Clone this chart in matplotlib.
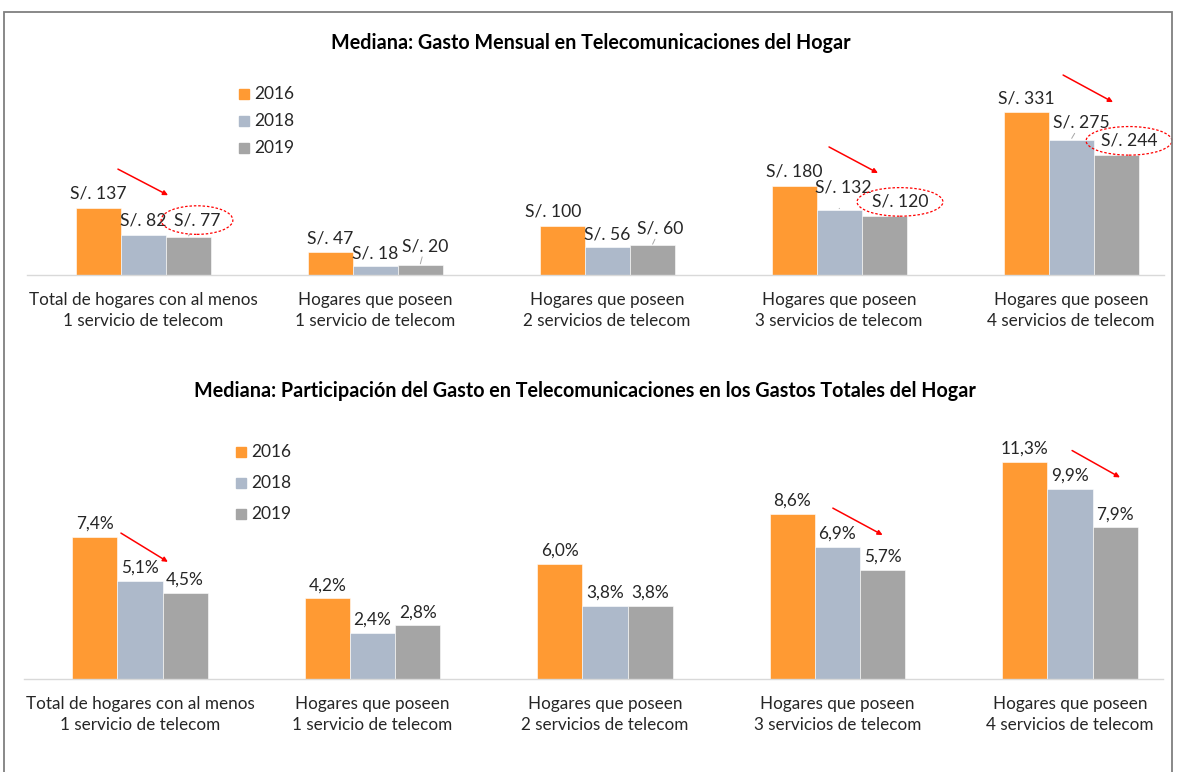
import matplotlib
matplotlib.use("Agg")
import matplotlib.pyplot as plt
from matplotlib.patches import Rectangle
import numpy as np

plt.rcParams['font.family'] = ['Lato', 'DejaVu Sans']

W, H = 1177, 772

categories = [
    "Total de hogares con al menos\n1 servicio de telecom",
    "Hogares que poseen\n1 servicio de telecom",
    "Hogares que poseen\n2 servicios de telecom",
    "Hogares que poseen\n3 servicios de telecom",
    "Hogares que poseen\n4 servicios de telecom",
]
years = ["2016", "2018", "2019"]
colors = ["#FF9A33", "#ADB9CA", "#A5A5A5"]

# Gasto mensual (S/.)
gasto_2016 = [137, 47, 100, 180, 331]
gasto_2018 = [82, 18, 56, 132, 275]
gasto_2019 = [77, 20, 60, 120, 244]

# Participacion del gasto (%)
part_2016 = [7.4, 4.2, 6.0, 8.6, 11.3]
part_2018 = [5.1, 2.4, 3.8, 6.9, 9.9]
part_2019 = [4.5, 2.8, 3.8, 5.7, 7.9]

BAR_W = 45 / 232

fig = plt.figure(figsize=(W / 100, H / 100), dpi=100)


def px_axes(left, base, width, height):
    return fig.add_axes([left / W, (H - base) / H, width / W, height / H])


def draw_panel(ax, series, fmt, ylim, offsets, circled, arrows, title, title_xy,
               legend_x, legend_ys, val_size):
    x = np.arange(len(categories))
    for i, (vals, col) in enumerate(zip(series, colors)):
        xs = x + (i - 1) * BAR_W
        ax.bar(xs, vals, width=BAR_W, color=col, edgecolor='white', linewidth=0.4,
               zorder=2)
        for g, (xx, v) in enumerate(zip(xs, vals)):
            dx, dy, leader = offsets.get((g, i), (0, 14, False))
            kw = {}
            if leader:
                kw['arrowprops'] = dict(arrowstyle='-', color='#A6A6A6', lw=0.7,
                                        shrinkA=7, shrinkB=1)
            if (g, i) in circled:
                kw['bbox'] = dict(boxstyle='ellipse,pad=0.12', fc='none', ec='#FF0000',
                                  ls=(0, (2, 1.5)), lw=0.9)
            ax.annotate(fmt(v), xy=(xx, v), xytext=(dx, dy), textcoords='offset pixels',
                        ha='center', va='center', fontsize=val_size, color='#262626',
                        annotation_clip=False, zorder=4, **kw)
    for (g, x0, y0, x1, y1) in arrows:
        ax.annotate('', xy=(g + x1, y1), xytext=(g + x0, y0),
                    arrowprops=dict(arrowstyle='-|>', color='#FF0000', lw=1.1,
                                    mutation_scale=7, shrinkA=0, shrinkB=0),
                    annotation_clip=False, zorder=5)
    ax.set_xlim(-0.5, 4.4)
    ax.set_ylim(*ylim)
    ax.set_xticks(x)
    ax.set_xticklabels(categories, fontsize=12.3, color='#262626', linespacing=1.4)
    ax.tick_params(axis='x', length=0, pad=12)
    ax.set_yticks([])
    for s in ['top', 'right', 'left']:
        ax.spines[s].set_visible(False)
    ax.spines['bottom'].set_color('#D9D9D9')
    ax.spines['bottom'].set_linewidth(1)
    fig.text(title_xy[0] / W, 1 - title_xy[1] / H, title, ha='center', va='center',
             fontsize=14.2, fontweight='bold', color='#000000')
    for yr, col, ly in zip(years, colors, legend_ys):
        fig.patches.append(Rectangle(((legend_x) / W, 1 - (ly + 5) / H), 10 / W, 10 / H,
                                     transform=fig.transFigure, color=col, figure=fig))
        fig.text((legend_x + 15) / W, 1 - ly / H, yr, ha='left', va='center',
                 fontsize=12.5, color='#262626')


ax1 = px_axes(27, 275, 4.9 * 232, 360 * 0.4925)
offsets1 = {
    (0, 2): (9, 17, True), (1, 0): (0, 13, False), (1, 1): (0, 13, False),
    (1, 2): (5, 19, True), (2, 0): (-9, 14, False), (2, 1): (0, 13, False),
    (2, 2): (8, 17, True), (3, 0): (0, 15, False), (3, 1): (4, 22, True),
    (3, 2): (16, 14, False), (4, 0): (0, 13, False), (4, 1): (10, 17, True),
    (4, 2): (13, 14, False),
}
draw_panel(ax1, [gasto_2016, gasto_2018, gasto_2019], lambda v: f"S/. {v}",
           (0, 360), offsets1, {(0, 2), (3, 2), (4, 2)},
           [(0, -0.108, 215, 0.108, 162), (3, -0.043, 260, 0.168, 207),
            (4, -0.034, 406, 0.181, 351)],
           "Mediana: Gasto Mensual en Telecomunicaciones del Hogar", (591, 43),
           239, [94, 121, 148], 12.6)

ax2 = px_axes(23.75, 679, 4.9 * 232.5, 12.5 * 19.2)
offsets2 = {(g, i): (0, 13, False) for g in range(5) for i in range(3)}
draw_panel(ax2, [part_2016, part_2018, part_2019],
           lambda v: f"{v:.1f}%".replace('.', ','),
           (0, 12.5), offsets2, set(),
           [(0, -0.082, 7.6, 0.12, 6.1), (3, -0.02, 8.9, 0.194, 7.5),
            (4, 0.009, 11.9, 0.215, 10.5)],
           "Mediana: Participación del Gasto en Telecomunicaciones en los Gastos Totales del Hogar",
           (585, 391), 236, [452, 483, 514], 12.4)

# outer frame
fig.patches.append(Rectangle((3.5 / W, -0.05), (1172 - 3.5) / W, 1.05 - 11.5 / H,
                             transform=fig.transFigure, fill=False, ec='#7F7F7F',
                             lw=1.3, figure=fig))

fig.savefig("out.png", dpi=100, facecolor='white')
